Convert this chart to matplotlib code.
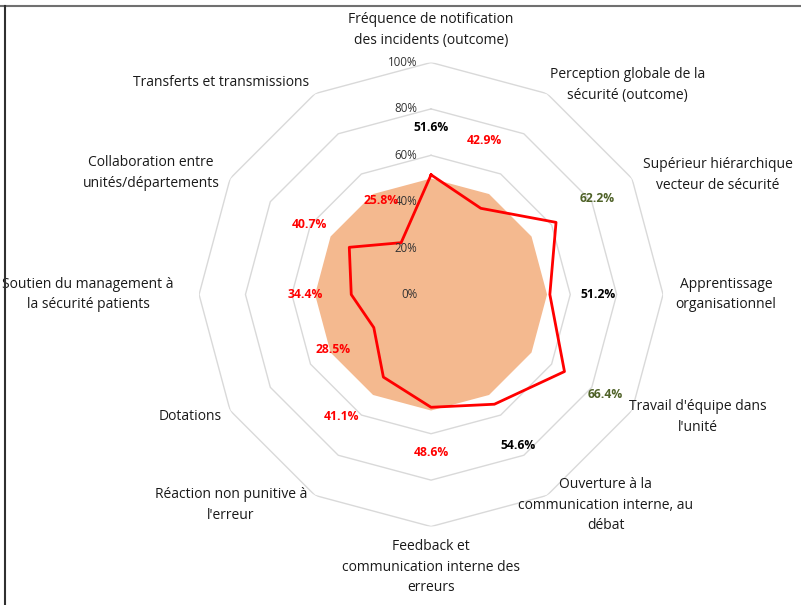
import numpy as np
import matplotlib
matplotlib.use('Agg')
import matplotlib.pyplot as plt
from matplotlib.lines import Line2D

plt.rcParams['font.family'] = ['Open Sans', 'DejaVu Sans']

# Dimensions (clockwise from the top)
categories = [
    'Fréquence de notification\ndes incidents (outcome)',
    'Perception globale de la\nsécurité (outcome)',
    'Supérieur hiérarchique\nvecteur de sécurité',
    'Apprentissage\norganisationnel',
    "Travail d'équipe dans\nl'unité",
    'Ouverture à la\ncommunication interne, au\ndébat',
    'Feedback et\ncommunication interne des\nerreurs',
    'Réaction non punitive à\nl\'erreur',
    'Dotations',
    'Soutien du management à\nla sécurité patients',
    'Collaboration entre\nunités/départements',
    'Transferts et transmissions',
]
scores = [51.6, 42.9, 62.2, 51.2, 66.4, 54.6, 48.6, 41.1, 28.5, 34.4, 40.7, 25.8]
reference = [50, 50, 50, 50, 50, 50, 50, 50, 50, 50, 50, 50]
ring_levels = [0, 20, 40, 60, 80, 100]

# label placement (angle in degrees clockwise from top, radius in %)
value_pos = [(0, 72), (19, 70.4), (60, 82.8), (90, 72), (120, 86.6), (150, 75),
             (180, 68.3), (216.5, 65.2), (240.5, 48.5), (270, 54.3), (300, 60.7), (332, 45.7)]
cat_pos = [(0, 114), (43.1, 123.7), (67.4, 134), (90, 127.2), (114.6, 126.6), (140.3, 118),
           (180, 117.5), (223.5, 125.2), (243.2, 116.3), (270, 147.8), (293.5, 131.6), (315.3, 128.5)]


def value_color(v):
    if v < 50:
        return '#FF0000'
    if v >= 60:
        return '#4F6228'
    return '#000000'


n = len(categories)
angles = np.linspace(0, 2 * np.pi, n, endpoint=False)
closed = np.append(angles, angles[0])

fig = plt.figure(figsize=(8.01, 6.05), dpi=100)
ax = fig.add_axes([0.2485, 0.1297, 0.5793, 0.767], projection='polar')
ax.set_theta_zero_location('N')
ax.set_theta_direction(-1)
ax.set_ylim(0, 100)
ax.axis('off')

# polygon grid
for lvl in ring_levels[1:]:
    ax.plot(closed, [lvl] * (n + 1), color='#D9D9D9', lw=1, zorder=1)
for lvl in ring_levels:
    ax.annotate(f'{lvl}%', xy=(0, lvl), xytext=(-10, 0), textcoords='offset points',
                ha='right', va='center', fontsize=8.3, color='#333333', zorder=5)

ref = np.append(reference, reference[0])
ax.fill(closed, ref, color='#F4B98F', lw=0, zorder=2)

sc = np.append(scores, scores[0])
ax.plot(closed, sc, color='#FF0000', lw=2, zorder=4)

for v, (a, r) in zip(scores, value_pos):
    ax.text(np.deg2rad(a), r, f'{v:.1f}%', ha='center', va='center', fontsize=8.7,
            fontweight='bold', color=value_color(v), zorder=6)

for lab, (a, r) in zip(categories, cat_pos):
    ax.text(np.deg2rad(a), r, lab, ha='center', va='center', fontsize=10,
            color='#1A1A1A', linespacing=1.5, clip_on=False)

# outer frame (top and left edges visible)
fig.add_artist(Line2D([0, 1], [1 - 5.5 / 605] * 2, color='#707070', lw=1.5))
fig.add_artist(Line2D([4.5 / 801] * 2, [0, 1 - 5.5 / 605], color='#303030', lw=1.5))

fig.savefig('out.png', dpi=100)
